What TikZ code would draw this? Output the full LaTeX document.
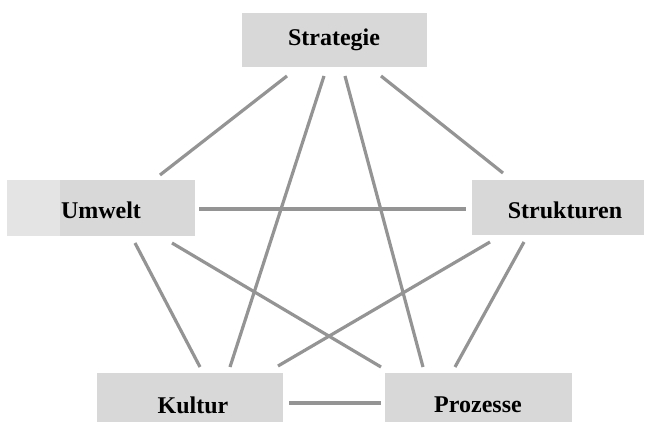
\documentclass[tikz,border=0pt]{standalone}
\usepackage{fontspec}
\setmainfont{Liberation Serif}
\begin{document}
\begin{tikzpicture}[x=1pt,y=-1pt,
  lbl/.style={font=\fontsize{24}{27}\selectfont\bfseries,text=black,inner sep=0pt},
  link/.style={draw=linkgray,line width=3.2pt}]
\definecolor{boxgray}{RGB}{216,216,216}
\definecolor{boxlight}{RGB}{228,228,228}
\definecolor{linkgray}{RGB}{148,148,148}
\useasboundingbox (0,0) rectangle (649,422);

% boxes
\fill[boxgray] (242,13) rectangle (427,67);
\fill[boxlight] (7,180) rectangle (60,236);
\fill[boxgray] (60,180) rectangle (195,236);
\fill[boxgray] (472,180) rectangle (644,235);
\fill[boxgray] (97,373) rectangle (283,422);
\fill[boxgray] (385,373) rectangle (572,422);

% labels
\node[lbl] (strategie) at (334,40) {Strategie};
\node[lbl] (umwelt) at (101,210) {Umwelt};
\node[lbl] (strukturen) at (565,210) {Strukturen};
\node[lbl] (kultur) at (193,405) {Kultur};
\node[lbl] (prozesse) at (478,405) {Prozesse};

% connector end points
\coordinate (sU1) at (287,76);  \coordinate (sU2) at (160,175);
\coordinate (sS1) at (381,76);  \coordinate (sS2) at (503,173);
\coordinate (sK1) at (324,76);  \coordinate (sK2) at (230,367);
\coordinate (sP1) at (345,76);  \coordinate (sP2) at (423,367);
\coordinate (uS1) at (199,209); \coordinate (uS2) at (466,209);
\coordinate (uK1) at (135,243); \coordinate (uK2) at (200,367);
\coordinate (uP1) at (172,243); \coordinate (uP2) at (381,367);
\coordinate (tK1) at (490,242); \coordinate (tK2) at (278,366);
\coordinate (tP1) at (524,242); \coordinate (tP2) at (455,367);
\coordinate (kP1) at (289,403); \coordinate (kP2) at (381,403);

% connectors
\draw[link] (sU1) -- (sU2);
\draw[link] (sS1) -- (sS2);
\draw[link] (sK1) -- (sK2);
\draw[link] (sP1) -- (sP2);
\draw[link] (uS1) -- (uS2);
\draw[link] (uK1) -- (uK2);
\draw[link] (uP1) -- (uP2);
\draw[link] (tK1) -- (tK2);
\draw[link] (tP1) -- (tP2);
\draw[link] (kP1) -- (kP2);
\end{tikzpicture}
\end{document}
